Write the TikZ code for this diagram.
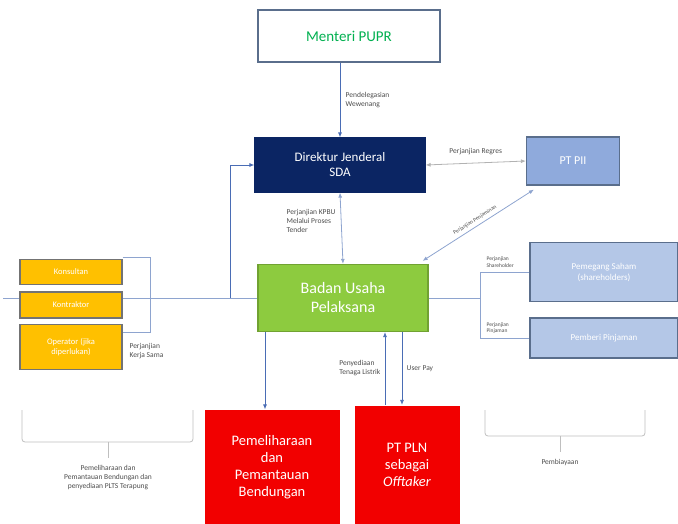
\documentclass[tikz,border=0pt]{standalone}
\usepackage{fontspec}
\setmainfont{Carlito}
\usetikzlibrary{arrows.meta, positioning, calc}
\pgfdeclarelayer{back}
\pgfsetlayers{back,main}
\definecolor{navy}{HTML}{0B2563}
\definecolor{grass}{HTML}{8DCB3F}
\definecolor{amber}{HTML}{FFC000}
\definecolor{sky}{HTML}{8FAADC}
\definecolor{pale}{HTML}{B4C7E7}
\definecolor{flame}{HTML}{F20000}
\definecolor{leaf}{HTML}{00B050}
\definecolor{wire}{HTML}{8EA4CF}
\definecolor{tip}{HTML}{4A6DB5}
\definecolor{edge}{HTML}{5A6E8C}

\begin{document}
\begin{tikzpicture}[
  x=1pt, y=-1pt,
  every node/.style={font=\fontsize{7.5}{9}\selectfont, text=black!70},
  block/.style={rectangle, draw=edge, line width=1.2pt, align=center,
                text=white, inner sep=2pt},
  side/.style={block, fill=amber, draw=black!55, minimum width=102pt,
               font=\fontsize{8.5}{10}\selectfont},
  fund/.style={block, fill=pale, draw=edge, minimum width=148pt,
               font=\fontsize{9}{11}\selectfont},
  duty/.style={block, fill=flame, draw=none,
               font=\fontsize{14.5}{17}\selectfont},
  note/.style={align=left, font=\fontsize{7.5}{9}\selectfont},
  tiny/.style={align=left, font=\fontsize{5.5}{6.5}\selectfont},
  link/.style={wire, line width=0.8pt},
  arrow/.style={link, -{Latex[length=5pt, width=4pt]}, tip},
  both/.style={link, {Latex[length=5pt, width=4pt]}-{Latex[length=5pt, width=4pt]}}
]
\useasboundingbox (0,0) rectangle (678,524);
% top row
\node[block, fill=white, minimum width=182pt, minimum height=52pt,
      text=leaf, font=\fontsize{15}{17}\selectfont]      (menteri) at (349,36)  {Menteri PUPR};
\node[block, fill=navy, draw=navy, minimum width=170pt, minimum height=54pt,
      font=\fontsize{13}{15}\selectfont]                 (dirjen)  at (340,165) {Direktur Jenderal\\SDA};
\node[block, fill=sky, minimum width=93pt, minimum height=48pt,
      font=\fontsize{12}{14}\selectfont]                 (pii)     at (573,161) {PT PII};
% middle row
\node[block, fill=grass, draw=grass!80!black, minimum width=170pt, minimum height=67pt,
      font=\fontsize{16}{19}\selectfont]                 (bup)     at (343,298) {Badan Usaha\\Pelaksana};
\node[side, minimum height=25pt] (konsultan)  at (71,272) {Konsultan};
\node[side, minimum height=26pt] (kontraktor) at (71,305) {Kontraktor};
\node[side, minimum height=45pt] (operator)   at (71,347) {Operator (jika\\diperlukan)};
\node[fund, minimum height=59pt] (saham)      at (604,272) {Pemegang Saham\\(shareholders)};
\node[fund, minimum height=40pt] (pinjaman)   at (604,338) {Pemberi Pinjaman};
% bottom row
\node[duty, minimum width=135pt, minimum height=114pt] (pemeliharaan) at (272,467)
     {Pemeliharaan\\dan\\Pemantauan\\Bendungan};
\node[duty, minimum width=105pt, minimum height=119pt] (pln) at (407,465)
     {PT PLN\\sebagai\\\textit{Offtaker}};

% connectors
\draw[arrow] (menteri.south -| dirjen.north) -- node[note, right=2pt]{Pendelegasian\\Wewenang} (dirjen.north);
\draw[both, gray!60] (dirjen.east) -- node[note, above=4pt]{Perjanjian Regres} (pii.west);
\draw[both] ($(pii.south west)+(8,4)$) -- node[tiny, sloped, above]{Perjanjian Penjaminan} ($(bup.north east)+(-6,-3)$);
\draw[both] (dirjen.south) -- node[note, left=2pt, pos=0.4]{Perjanjian KPBU\\Melalui Proses\\Tender} (bup.north);

% left side
\coordinate (far)  at (3,298);
\coordinate (bend) at (230,298);
\begin{pgfonlayer}{back}
\draw[link] (bup.west) -- (far);
\draw[link] (konsultan.north east) ++(0,-2) -- ++(28,0) |- ($(operator.north east)+(0,8)$);
\end{pgfonlayer}
\draw[arrow] (bend) |- (dirjen.west);
\node[note, anchor=north west] (kerja) at (126,340) {Perjanjian\\Kerja Sama};

% right side
\coordinate (fork) at (480,298);
\draw[link] (bup.east) -- (fork);
\draw[link] (fork) |- (saham.west);
\draw[link] (fork) |- (pinjaman.west);
\node[tiny, anchor=south west] at (483,271) {Perjanjian\\Shareholder};
\node[tiny, anchor=south west] at (483,337) {Perjanjian\\Pinjaman};

% down to red boxes
\draw[arrow] (bup.south -| 265,0) -- (pemeliharaan.north -| 265,0);
\draw[arrow] (pln.north -| 385,0) -- node[note, left=1pt]{Penyediaan\\Tenaga Listrik} (bup.south -| 385,0);
\draw[arrow] (bup.south -| 402,0) -- node[note, right=1pt]{User Pay} (pln.north -| 402,0);

% braces
\draw[link, gray!50, rounded corners=3pt] (22,410) -- (22,442) -- (193,442) -- (193,410);
\draw[link, gray!50] (108,442) -- (108,458);
\node[note, align=center, anchor=north] at (108,462)
     {Pemeliharaan dan\\Pemantauan Bendungan dan\\penyediaan PLTS Terapung};
\draw[link, gray!50, rounded corners=3pt] (485,410) -- (485,436) -- (645,436) -- (645,410);
\draw[link, gray!50] (560,436) -- (560,452);
\node[note, anchor=north] at (560,456) {Pembiayaan};
\end{tikzpicture}
\end{document}
